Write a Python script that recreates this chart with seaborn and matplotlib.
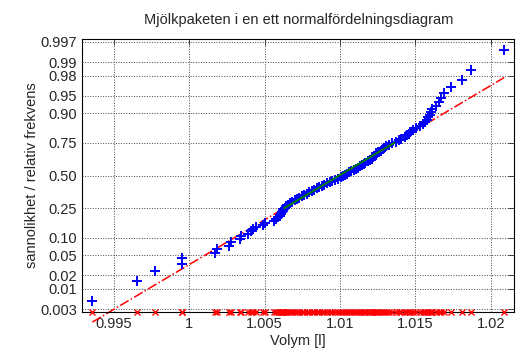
from statistics import NormalDist
import numpy as np
import matplotlib
matplotlib.use("Agg")
import matplotlib.pyplot as plt
import seaborn as sns

# milk package volumes (l), sorted
volym = [
    0.99359, 0.99657, 0.99776, 0.99954, 0.99954, 1.00172, 1.00185, 1.00264, 1.00278, 1.00337,
    1.00344, 1.00390, 1.00410, 1.00423, 1.00443, 1.00489, 1.00502, 1.00562, 1.00575, 1.00588,
    1.00601, 1.00608, 1.00614, 1.00621, 1.00624, 1.00634, 1.00641, 1.00654, 1.00667, 1.00681,
    1.00700, 1.00714, 1.00727, 1.00747, 1.00760, 1.00780, 1.00793, 1.00813, 1.00826, 1.00846,
    1.00859, 1.00879, 1.00892, 1.00912, 1.00932, 1.00945, 1.00965, 1.00985, 1.01004, 1.01018,
    1.01031, 1.01044, 1.01057, 1.01070, 1.01090, 1.01103, 1.01117, 1.01130, 1.01143, 1.01156,
    1.01169, 1.01183, 1.01196, 1.01209, 1.01222, 1.01229, 1.01236, 1.01242, 1.01255, 1.01269,
    1.01282, 1.01295, 1.01308, 1.01328, 1.01348, 1.01374, 1.01388, 1.01407, 1.01434, 1.01447,
    1.01460, 1.01467, 1.01487, 1.01506, 1.01533, 1.01553, 1.01566, 1.01579, 1.01586, 1.01599,
    1.01606, 1.01612, 1.01639, 1.01658, 1.01672, 1.01691, 1.01738, 1.01810, 1.01870, 1.02088,
]
prob_ticks = [0.003, 0.01, 0.02, 0.05, 0.10, 0.25, 0.50, 0.75, 0.90, 0.95, 0.98, 0.99, 0.997]
prob_labels = ["0.003", "0.01", "0.02", "0.05", "0.10", "0.25", "0.50",
               "0.75", "0.90", "0.95", "0.98", "0.99", "0.997"]
x_ticks = [0.995, 1.0, 1.005, 1.01, 1.015, 1.02]
x_labels = ["0.995", "1", "1.005", "1.01", "1.015", "1.02"]

nd = NormalDist()
x = np.sort(np.array(volym))
n = len(x)
q = np.array([nd.inv_cdf((i - 0.5) / n) for i in range(1, n + 1)])

# reference line through the quartiles
p25, p75 = np.percentile(x, [25, 75], method="hazen")
q25, q75 = nd.inv_cdf(0.25), nd.inv_cdf(0.75)
slope = (q75 - q25) / (p75 - p25)
line_x = np.array([x.min(), x.max()])
line_y = q25 + slope * (line_x - p25)

sns.set_style("white")
plt.rcParams["font.family"] = ["Liberation Sans", "DejaVu Sans"]

fig = plt.figure(figsize=(5.16, 3.56), dpi=100)
ax = fig.add_axes([0.159, 0.1236, 0.838, 0.7668])

r = x.max() - x.min()
ax.set_xlim(x.min() - 0.025 * r, x.max() + 0.025 * r)
ylo, yhi = nd.inv_cdf(0.0025), nd.inv_cdf(0.9975)
ax.set_ylim(ylo, yhi)

ax.plot(line_x, line_y, color="red", linestyle="-.", linewidth=1.1, clip_on=False, zorder=2)
sns.scatterplot(x=x, y=q, marker="+", color="blue", s=55, linewidth=1.4, ax=ax, zorder=3)
ax.plot([p25, p75], [q25, q75], color="green", linewidth=1.4, zorder=6)
ax.plot(x, np.full(n, ylo), linestyle="none", marker="x", color="red",
        markersize=4.5, markeredgewidth=1.0, clip_on=False, zorder=5)

ax.set_yticks([nd.inv_cdf(p) for p in prob_ticks])
ax.set_yticklabels(prob_labels)
ax.set_xticks(x_ticks)
ax.set_xticklabels(x_labels)
ax.tick_params(direction="in", top=True, right=True, labelsize=10.5, length=4, width=0.6)
ax.grid(True, linestyle=":", color="#444444", linewidth=0.7)
for s in ax.spines.values():
    s.set_color("black")
    s.set_linewidth(0.8)

ax.set_title("Mjölkpaketen i en ett normalfördelningsdiagram", fontsize=10.5, pad=11)
ax.set_xlabel("Volym [l]", fontsize=10.5, labelpad=2)
ax.set_ylabel("sannolikhet / relativ frekvens", fontsize=10.5, labelpad=1)

fig.savefig("out.png", dpi=100)
